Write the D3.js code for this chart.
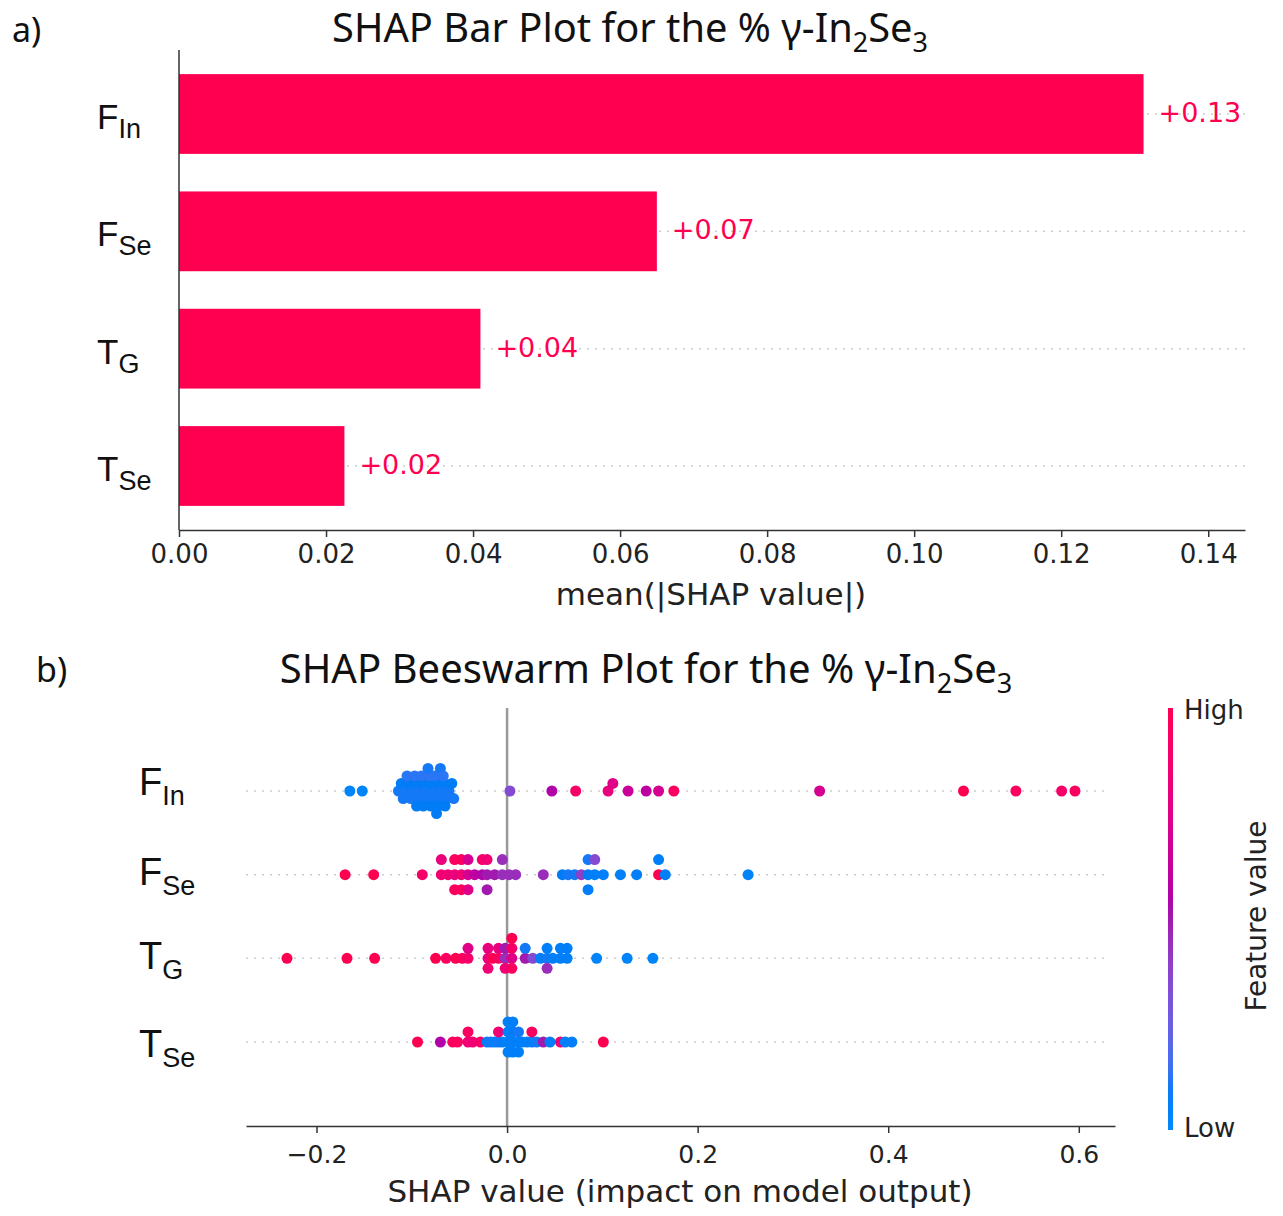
<!DOCTYPE html>
<html><head><meta charset="utf-8">
<script src="https://cdn.jsdelivr.net/npm/d3@7"></script>
<style>body{margin:0;background:#fff} svg{display:block}</style>
</head><body>
<svg id="chart" width="1283" height="1216"></svg>
<script>
// ---------------- DATA ----------------
const features = ["F_In", "F_Se", "T_G", "T_Se"];
const featureMain = ["F", "F", "T", "T"];
const featureSub = ["In", "Se", "G", "Se"];
const meanAbsShap = [0.1312, 0.0650, 0.0410, 0.0225];
const barLabels = ["+0.13", "+0.07", "+0.04", "+0.02"];
const barTicks = [0.00, 0.02, 0.04, 0.06, 0.08, 0.10, 0.12, 0.14];
const swarmTicks = [-0.2, 0.0, 0.2, 0.4, 0.6];
const barTitle = ["SHAP Bar Plot for the % γ-In", "2", "Se", "3"];
const swarmTitle = ["SHAP Beeswarm Plot for the % γ-In", "2", "Se", "3"];

// beeswarm points: [SHAP value, normalised feature value (0 = low, 1 = high)]
const shapFIn = [
  [-0.165, 0.03], [-0.152, 0.03],
  [-0.114, 0.1], [-0.111, 0.08], [-0.109, 0.1],
  [-0.107, 0.1], [-0.104, 0.08], [-0.101, 0.1], [-0.105, 0.12],
  [-0.099, 0.1], [-0.096, 0.08], [-0.094, 0.1], [-0.097, 0.12], [-0.095, 0.08],
  [-0.092, 0.1], [-0.089, 0.08], [-0.086, 0.1], [-0.090, 0.12], [-0.088, 0.08],
  [-0.084, 0.1], [-0.081, 0.08], [-0.078, 0.1], [-0.082, 0.12], [-0.080, 0.08], [-0.083, 0.1],
  [-0.075, 0.1], [-0.073, 0.08], [-0.071, 0.1], [-0.076, 0.12], [-0.072, 0.08], [-0.070, 0.1], [-0.074, 0.08],
  [-0.069, 0.1], [-0.066, 0.08], [-0.063, 0.1], [-0.067, 0.12], [-0.065, 0.08],
  [-0.061, 0.1], [-0.058, 0.08], [-0.056, 0.1],
  [0.003, 0.35], [0.047, 0.55], [0.072, 0.9], [0.106, 0.8], [0.111, 0.75],
  [0.127, 0.65], [0.146, 0.6], [0.159, 0.7], [0.175, 0.95],
  [0.328, 0.7], [0.479, 1.0], [0.534, 0.95], [0.582, 0.9], [0.596, 0.95]
];
const shapFSe = [
  [-0.170, 1.0], [-0.140, 1.0], [-0.089, 0.9],
  [-0.069, 0.85], [-0.069, 0.8],
  [-0.062, 0.85],
  [-0.055, 0.8], [-0.055, 0.95], [-0.055, 0.95],
  [-0.048, 0.85], [-0.048, 0.95], [-0.048, 0.95],
  [-0.041, 0.7], [-0.041, 0.7], [-0.041, 0.75],
  [-0.034, 0.6],
  [-0.026, 0.55], [-0.026, 0.9],
  [-0.021, 0.5], [-0.021, 0.85], [-0.021, 0.5],
  [-0.013, 0.5],
  [-0.005, 0.45], [-0.005, 0.45],
  [0.002, 0.45], [0.009, 0.45], [0.038, 0.45],
  [0.058, 0.08], [0.064, 0.1], [0.071, 0.1], [0.078, 0.4],
  [0.085, 0.08], [0.085, 0.1], [0.085, 0.06],
  [0.092, 0.06], [0.092, 0.35],
  [0.101, 0.06], [0.119, 0.05], [0.136, 0.06],
  [0.159, 1.0], [0.159, 0.06],
  [0.166, 0.06], [0.253, 0.03]
];
const shapTG = [
  [-0.231, 1.0], [-0.168, 1.0], [-0.139, 1.0],
  [-0.075, 1.0], [-0.064, 0.95], [-0.054, 1.0], [-0.047, 0.95],
  [-0.041, 0.9], [-0.041, 0.75],
  [-0.020, 0.8], [-0.020, 0.8], [-0.020, 0.85],
  [-0.015, 1.0],
  [-0.009, 0.95], [-0.009, 0.8],
  [-0.002, 0.45], [-0.002, 0.5], [-0.002, 0.85],
  [0.005, 0.75], [0.005, 0.9], [0.005, 0.95], [0.005, 1.0],
  [0.019, 0.5], [0.019, 0.1],
  [0.027, 0.35], [0.035, 0.06],
  [0.042, 0.1], [0.042, 0.06], [0.042, 0.45],
  [0.048, 0.06],
  [0.056, 0.06], [0.056, 0.06],
  [0.063, 0.06], [0.063, 0.06],
  [0.094, 0.03], [0.126, 0.03], [0.153, 0.03]
];
const shapTSe = [
  [-0.094, 1.0], [-0.070, 0.55], [-0.057, 0.95], [-0.052, 0.95],
  [-0.041, 0.85], [-0.041, 0.95],
  [-0.036, 0.85], [-0.028, 0.9],
  [-0.021, 0.06], [-0.017, 0.1], [-0.013, 0.06],
  [-0.009, 0.1], [-0.009, 0.85],
  [-0.005, 0.06],
  [0.001, 0.06], [0.001, 0.06], [0.001, 0.06], [0.001, 0.06],
  [0.006, 0.06], [0.006, 0.08], [0.006, 0.06], [0.006, 0.06],
  [0.012, 0.06], [0.012, 0.1], [0.012, 0.06],
  [0.016, 0.06], [0.021, 0.06],
  [0.026, 0.06], [0.026, 0.95],
  [0.031, 0.1], [0.038, 0.5], [0.045, 0.06], [0.056, 0.85],
  [0.061, 0.06], [0.068, 0.06], [0.101, 1.0]
];
const swarmData = [shapFIn, shapFSe, shapTG, shapTSe];

// ---------------- STYLE / LAYOUT ----------------
const RED = "#ff0051";
const titleFont = "'Noto Sans', 'Open Sans', sans-serif";
const labelFont = "'Liberation Sans', Arial, sans-serif";
const axisFont = "'DejaVu Sans', sans-serif";

function shapColor(t) {
  if (t <= 0) return "#008bfb";
  if (t >= 1) return RED;
  const h = 266.93 + t * (380.33 - 266.93);
  const c = 70 + 20 * t;
  const l = t < 0.5 ? 54 - 28 * t : 40 + 28 * (t - 0.5);
  return d3.hcl(h, c, l).formatHex();
}

const svg = d3.select("#chart");

function subText(g, parts, fs, subFs, subDy) {
  const t = g.append("text");
  parts.forEach((p, i) => {
    const isSub = i % 2 === 1;
    const ts = t.append("tspan").text(p).attr("font-size", isSub ? subFs : fs);
    if (isSub) ts.attr("dy", subDy);
    else if (i > 0) ts.attr("dy", -subDy);
  });
  return t;
}

function fitWidth(textSel, target) {
  const w = textSel.node().getBBox().width;
  const k = target / w;
  textSel.selectAll("tspan").each(function() {
    const s = d3.select(this);
    s.attr("font-size", parseFloat(s.attr("font-size")) * k);
    if (s.attr("dy")) s.attr("dy", parseFloat(s.attr("dy")) * k);
  });
}

// ================= PANEL a: BAR PLOT =================
const xBar = d3.scaleLinear().domain([0, 0.145]).range([179, 1245]);
const yBar = d3.scalePoint().domain(features).range([114, 466]);
const barH = yBar.step() * 0.68;
const barAxisY = 530;

svg.append("text").attr("x", 12).attr("y", 42).attr("font-family", titleFont)
  .attr("font-size", 34).attr("fill", "#111").text("a)");
const t1 = subText(svg, barTitle, 31, 21, 8)
  .attr("font-family", titleFont).attr("fill", "#111").attr("y", 42);
fitWidth(t1, 596);
t1.attr("x", 630).attr("text-anchor", "middle");

const gBar = svg.append("g");
gBar.selectAll(".grid").data(features).join("line")
  .attr("x1", xBar(0)).attr("x2", xBar.range()[1])
  .attr("y1", d => yBar(d)).attr("y2", d => yBar(d))
  .attr("stroke", "#cccccc").attr("stroke-width", 1.5).attr("stroke-dasharray", "2,6");
gBar.selectAll(".bar").data(features).join("rect")
  .attr("x", xBar(0)).attr("y", d => yBar(d) - barH / 2)
  .attr("width", (d, i) => xBar(meanAbsShap[i]) - xBar(0))
  .attr("height", barH).attr("fill", RED);
gBar.selectAll(".val").data(features).join("text")
  .attr("x", (d, i) => xBar(meanAbsShap[i]) + 15)
  .attr("y", d => yBar(d) + 8)
  .attr("font-family", axisFont).attr("font-size", 27).attr("fill", RED)
  .text((d, i) => barLabels[i]);
gBar.append("line").attr("x1", xBar(0)).attr("x2", xBar(0))
  .attr("y1", 50).attr("y2", barAxisY).attr("stroke", "#333").attr("stroke-width", 1.5);
const axB = gBar.append("g").attr("transform", `translate(0,${barAxisY})`)
  .call(d3.axisBottom(xBar).tickValues(barTicks).tickFormat(d3.format(".2f"))
    .tickSize(7).tickSizeOuter(0).tickPadding(8));
axB.select(".domain").attr("stroke", "#333").attr("stroke-width", 1.5);
axB.selectAll(".tick line").attr("stroke", "#333").attr("stroke-width", 1.5);
axB.selectAll(".tick text").attr("font-family", axisFont).attr("font-size", 26).attr("fill", "#222");
svg.append("text").attr("x", 711).attr("y", 605).attr("text-anchor", "middle")
  .attr("font-family", axisFont).attr("font-size", 31).attr("fill", "#222")
  .text("mean(|SHAP value|)");
features.forEach((f, i) => {
  subText(svg, [featureMain[i], featureSub[i]], 35, 27, 9)
    .attr("x", 97).attr("y", yBar(f) + 15)
    .attr("font-family", labelFont).attr("fill", "#111");
});

// ================= PANEL b: BEESWARM =================
const xS = d3.scaleLinear().domain([-0.274, 0.638]).range([246, 1115]);
const yS = d3.scalePoint().domain(features).range([791, 1042]);
const swarmAxisY = 1126;

svg.append("text").attr("x", 36).attr("y", 682).attr("font-family", titleFont)
  .attr("font-size", 34).attr("fill", "#111").text("b)");
const t2 = subText(svg, swarmTitle, 31, 21, 8)
  .attr("font-family", titleFont).attr("fill", "#111").attr("y", 683);
fitWidth(t2, 733);
t2.attr("x", 646).attr("text-anchor", "middle");

const gS = svg.append("g");
gS.selectAll(".grid").data(features).join("line")
  .attr("x1", xS.range()[0]).attr("x2", 1110)
  .attr("y1", d => yS(d)).attr("y2", d => yS(d))
  .attr("stroke", "#cccccc").attr("stroke-width", 1.5).attr("stroke-dasharray", "2,6");
gS.append("line").attr("x1", xS(0)).attr("x2", xS(0)).attr("y1", 708).attr("y2", swarmAxisY)
  .attr("stroke", "#999999").attr("stroke-width", 2.5);

// SHAP-style beeswarm layout (binning + alternating layers)
function swarmOffsets(points) {
  const n = points.length;
  const vals = points.map(p => p[0]);
  const mn = d3.min(vals), mx = d3.max(vals);
  const quant = vals.map(v => Math.round(100 * (v - mn) / (mx - mn + 1e-8)));
  const order = d3.range(n).sort((a, b) => quant[a] - quant[b] || a - b);
  const ys = new Array(n).fill(0);
  let layer = 0, last = -1;
  for (const i of order) {
    if (quant[i] !== last) layer = 0;
    ys[i] = Math.ceil(layer / 2) * ((layer % 2) * 2 - 1);
    layer++; last = quant[i];
  }
  const m = d3.max(ys.map(y => y + 1));
  return ys.map(y => y * 0.9 * 0.4 / m);
}

features.forEach((f, i) => {
  const pts = swarmData[i];
  const off = swarmOffsets(pts);
  gS.append("g").selectAll("circle").data(pts).join("circle")
    .attr("cx", d => xS(d[0]))
    .attr("cy", (d, j) => yS(f) - off[j] * yS.step())
    .attr("r", 5.5)
    .attr("fill", d => shapColor(d[1]));
});

const axS = gS.append("g").attr("transform", `translate(0,${swarmAxisY})`)
  .call(d3.axisBottom(xS).tickValues(swarmTicks).tickFormat(d3.format(".1f"))
    .tickSize(7).tickSizeOuter(0).tickPadding(12));
axS.select(".domain").attr("stroke", "#333").attr("stroke-width", 1.5);
axS.selectAll(".tick line").attr("stroke", "#333").attr("stroke-width", 1.5);
axS.selectAll(".tick text").attr("font-family", axisFont).attr("font-size", 25).attr("fill", "#222");
svg.append("text").attr("x", 680).attr("y", 1202).attr("text-anchor", "middle")
  .attr("font-family", axisFont).attr("font-size", 31).attr("fill", "#222")
  .text("SHAP value (impact on model output)");

const swarmLabelDy = [4, 10, 11, 15];
features.forEach((f, i) => {
  subText(svg, [featureMain[i], featureSub[i]], 38, 27, 10)
    .attr("x", 139).attr("y", yS(f) + swarmLabelDy[i])
    .attr("font-family", labelFont).attr("fill", "#111");
});

// colour bar
const defs = svg.append("defs");
const grad = defs.append("linearGradient").attr("id", "cbar")
  .attr("x1", 0).attr("y1", 1).attr("x2", 0).attr("y2", 0);
d3.range(0, 1.0001, 0.05).forEach(t => {
  grad.append("stop").attr("offset", t).attr("stop-color", shapColor(t));
});
const cbTop = 708, cbBot = 1130;
svg.append("rect").attr("x", 1168).attr("y", cbTop).attr("width", 5)
  .attr("height", cbBot - cbTop).attr("fill", "url(#cbar)");
svg.append("text").attr("x", 1184).attr("y", cbTop + 11)
  .attr("font-family", axisFont).attr("font-size", 26).attr("fill", "#222").text("High");
svg.append("text").attr("x", 1184).attr("y", 1137)
  .attr("font-family", axisFont).attr("font-size", 26).attr("fill", "#222").text("Low");
svg.append("text").attr("transform", "translate(1266,916) rotate(-90)")
  .attr("text-anchor", "middle").attr("font-family", axisFont).attr("font-size", 28)
  .attr("fill", "#222").text("Feature value");
</script>
</body></html>
